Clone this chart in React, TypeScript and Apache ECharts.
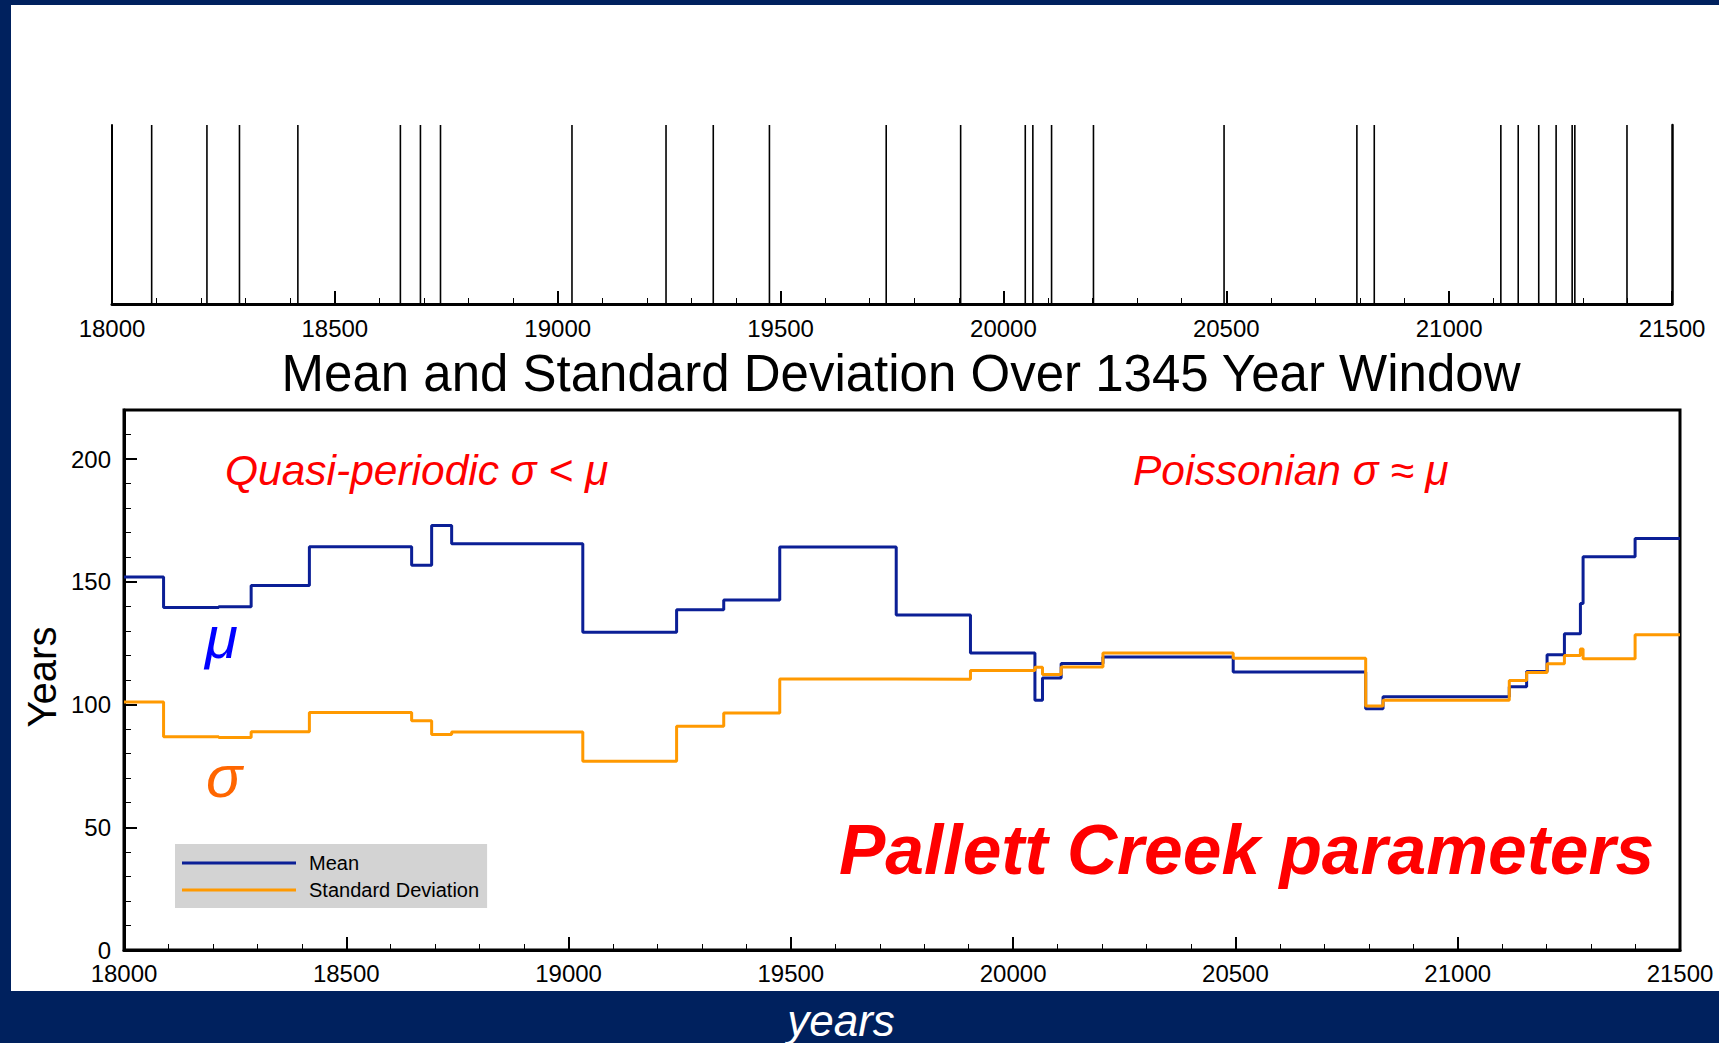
import React, { useEffect, useRef } from 'react';
import * as echarts from 'echarts';

// Event (earthquake) years shown in the top panel
const eventYears = [
  18089, 18213, 18286, 18417, 18647, 18692, 18737, 19032, 19243, 19349, 19475,
  19737, 19904, 20049, 20066, 20108, 20202, 20495, 20793, 20832, 21116, 21155,
  21201, 21240, 21276, 21282, 21399,
];

// Mean over window, value held from segment start (18000, then each event) to next
const meanValues = [
  152.0, 139.5, 139.8, 148.5, 164.3, 156.8, 172.9, 165.5, 129.5, 138.6, 142.6,
  164.2, 136.5, 121.0, 101.8, 110.8, 116.7, 119.4, 113.3, 98.3, 103.2, 107.2,
  113.5, 120.3, 128.8, 141.2, 160.2, 167.6,
];

// Standard deviation over window
const stdValues = [
  101.0, 86.9, 86.6, 88.9, 96.8, 93.4, 87.8, 88.8, 76.9, 91.2, 96.6,
  110.4, 110.3, 113.9, 115.2, 112.2, 115.3, 121.0, 118.9, 99.4, 101.8, 109.8,
  113.1, 116.6, 120.0, 122.6, 118.7, 128.4,
];

const X_MIN = 18000;
const X_MAX = 21500;
const seriesNames = ['Mean', 'Standard Deviation'];

const FONT = '"Liberation Sans", Arial, Helvetica, sans-serif';

function stepData(values: number[]) {
  const xs = [X_MIN, ...eventYears];
  const pts: number[][] = xs.map((x, i) => [x, values[i]]);
  pts.push([X_MAX, values[values.length - 1]]);
  return pts;
}

export default function App() {
  const ref = useRef<HTMLDivElement>(null);

  useEffect(() => {
    if (!ref.current) return;
    const chart = echarts.init(ref.current, undefined, { renderer: 'svg' });

    const xAxisBase = (gridIndex: number, margin: number) => ({
      gridIndex,
      type: 'value',
      min: X_MIN,
      max: X_MAX,
      interval: 500,
      axisLine: { show: true, onZero: false, lineStyle: { color: '#000', width: 3 } },
      axisTick: { show: true, inside: true, length: 13, lineStyle: { color: '#000', width: 2 } },
      minorTick: { show: true, splitNumber: 5, length: 6, lineStyle: { color: '#000', width: 1 } },
      axisLabel: {
        show: true, fontSize: 24, color: '#000', margin, fontFamily: FONT,
        formatter: (v: number) => String(v),
      },
      splitLine: { show: false },
      minorSplitLine: { show: false },
    });

    const option: any = {
      animation: false,
      backgroundColor: 'transparent',
      grid: [
        { left: 112, top: 125, width: 1560, height: 179, show: false },
        {
          left: 124, top: 410, width: 1556, height: 540, show: true,
          borderColor: '#000', borderWidth: 3, backgroundColor: 'transparent',
        },
      ],
      xAxis: [xAxisBase(0, 12), xAxisBase(1, 11)],
      yAxis: [
        {
          gridIndex: 0, type: 'value', min: 0, max: 1, position: 'left',
          axisLine: { show: true, lineStyle: { color: '#000', width: 2 } },
          axisTick: { show: false }, axisLabel: { show: false }, splitLine: { show: false },
        },
        {
          gridIndex: 0, type: 'value', min: 0, max: 1, position: 'right',
          axisLine: { show: true, lineStyle: { color: '#000', width: 2.5 } },
          axisTick: { show: false }, axisLabel: { show: false }, splitLine: { show: false },
        },
        {
          gridIndex: 1, type: 'value', min: 0, max: 220, interval: 50, position: 'left',
          axisLine: { show: true, lineStyle: { color: '#000', width: 3 } },
          axisTick: { show: true, inside: true, length: 13, lineStyle: { color: '#000', width: 2 } },
          axisLabel: {
            show: true, fontSize: 24, color: '#000', margin: 13, fontFamily: FONT,
            formatter: (v: number) => (v > 200 ? '' : String(v)),
          },
          splitLine: { show: false },
        },
        {
          gridIndex: 1, type: 'value', min: 0, max: 220, interval: 10, position: 'left',
          axisLine: { show: false },
          axisTick: { show: true, inside: true, length: 7, lineStyle: { color: '#000', width: 1 } },
          axisLabel: { show: false }, splitLine: { show: false },
        },
      ],
      legend: {
        data: seriesNames,
        orient: 'vertical',
        left: 175,
        top: 844,
        backgroundColor: '#D3D3D3',
        padding: [9, 8, 8, 7],
        icon: 'rect',
        itemWidth: 114,
        itemHeight: 3,
        itemGap: 7,
        selectedMode: false,
        textStyle: { fontSize: 20, color: '#000', fontFamily: FONT, padding: [0, 0, 0, 8] },
      },
      series: [
        {
          type: 'custom',
          xAxisIndex: 0,
          yAxisIndex: 0,
          silent: true,
          data: eventYears.map((x) => [x]),
          renderItem: (params: any, api: any) => {
            const x = api.value(0);
            const p0 = api.coord([x, 0]);
            const p1 = api.coord([x, 1]);
            return {
              type: 'line',
              shape: { x1: p0[0], y1: p0[1], x2: p1[0], y2: p1[1] },
              style: { stroke: '#000', lineWidth: 1.6 },
            };
          },
        },
        {
          name: seriesNames[0],
          type: 'line',
          xAxisIndex: 1,
          yAxisIndex: 2,
          step: 'end',
          symbol: 'none',
          data: stepData(meanValues),
          lineStyle: { color: '#0B1F96', width: 3 },
          itemStyle: { color: '#0B1F96' },
          z: 3,
        },
        {
          name: seriesNames[1],
          type: 'line',
          xAxisIndex: 1,
          yAxisIndex: 2,
          step: 'end',
          symbol: 'none',
          data: stepData(stdValues),
          lineStyle: { color: '#FF9900', width: 3 },
          itemStyle: { color: '#FF9900' },
          z: 4,
        },
      ],
      graphic: [
        {
          type: 'text', x: 901, y: 373,
          style: {
            text: 'Mean and Standard Deviation Over 1345 Year Window',
            fontSize: 51, fontFamily: FONT, fill: '#000', align: 'center', verticalAlign: 'middle',
          },
        },
        {
          type: 'text', x: 225, y: 470,
          style: {
            text: 'Quasi-periodic σ < μ', fontSize: 42.5, fontStyle: 'italic', fontFamily: FONT,
            fill: '#FF0000', align: 'left', verticalAlign: 'middle',
          },
        },
        {
          type: 'text', x: 1133, y: 470,
          style: {
            text: 'Poissonian σ ≈ μ', fontSize: 42.5, fontStyle: 'italic', fontFamily: FONT,
            fill: '#FF0000', align: 'left', verticalAlign: 'middle',
          },
        },
        {
          type: 'text', x: 205, y: 637,
          style: {
            text: 'μ', fontSize: 60, fontStyle: 'italic', fontFamily: FONT,
            fill: '#0000FF', align: 'left', verticalAlign: 'middle',
          },
        },
        {
          type: 'text', x: 206, y: 776,
          style: {
            text: 'σ', fontSize: 60, fontStyle: 'italic', fontFamily: FONT,
            fill: '#FF6600', align: 'left', verticalAlign: 'middle',
          },
        },
        {
          type: 'text', x: 839, y: 850,
          style: {
            text: 'Pallett Creek parameters', fontSize: 69.5, fontStyle: 'italic', fontWeight: 'bold',
            fontFamily: FONT, fill: '#FF0000', align: 'left', verticalAlign: 'middle',
          },
        },
        {
          type: 'text', x: 42, y: 677, rotation: Math.PI / 2,
          style: {
            text: 'Years', fontSize: 40, fontFamily: FONT, fill: '#000',
            align: 'center', verticalAlign: 'middle',
          },
        },
        {
          type: 'text', x: 841, y: 1020,
          style: {
            text: 'years', fontSize: 44, fontStyle: 'italic', fontFamily: FONT, fill: '#FFFFFF',
            align: 'center', verticalAlign: 'middle',
          },
        },
      ],
    };

    chart.setOption(option);
    return () => chart.dispose();
  }, []);

  return (
    <div style={{ position: 'absolute', left: 0, top: 0, width: 1719, height: 1043, background: '#00215E', overflow: 'hidden' }}>
      <div style={{ position: 'absolute', left: 11, top: 5, width: 1708, height: 986, background: '#FFFFFF' }} />
      <div ref={ref} style={{ position: 'absolute', left: 0, top: 0, width: 1719, height: 1043 }} />
    </div>
  );
}
